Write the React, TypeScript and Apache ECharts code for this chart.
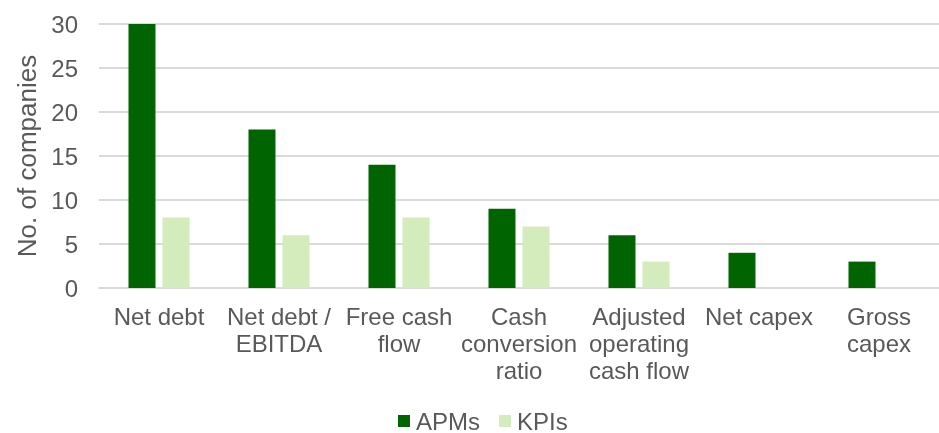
import React, { useEffect, useRef } from "react";
import * as echarts from "echarts";

const categories = [
  "Net debt",
  "Net debt /\nEBITDA",
  "Free cash\nflow",
  "Cash\nconversion\nratio",
  "Adjusted\noperating\ncash flow",
  "Net capex",
  "Gross\ncapex",
];
const apms = [30, 18, 14, 9, 6, 4, 3];
const kpis: (number | null)[] = [8, 6, 8, 7, 3, null, null];
const yTicks = { min: 0, max: 30, interval: 5 };

const TEXT = "#595959";
const FONT = "Liberation Sans, Arial, sans-serif";

export default function App() {
  const ref = useRef<HTMLDivElement>(null);
  useEffect(() => {
    if (!ref.current) return;
    const chart = echarts.init(ref.current, null, { renderer: "svg" });
    chart.setOption({
      animation: false,
      textStyle: { fontFamily: FONT, color: TEXT },
      grid: { left: 99, top: 24, width: 847, height: 264, containLabel: false },
      legend: {
        left: 398,
        top: 409,
        padding: 0,
        itemWidth: 12,
        itemHeight: 12,
        itemGap: 19,
        icon: "rect",
        textStyle: {
          fontFamily: FONT,
          color: TEXT,
          fontSize: 24,
          lineHeight: 24,
          padding: [0, 0, 0, 1],
        },
        data: ["APMs", "KPIs"],
      },
      xAxis: {
        type: "category",
        data: categories,
        axisLine: { show: true, lineStyle: { color: "#d9d9d9", width: 2 } },
        axisTick: { show: false },
        axisLabel: {
          interval: 0,
          color: TEXT,
          fontFamily: FONT,
          fontSize: 24,
          lineHeight: 27,
          margin: 15,
          align: "center",
        },
      },
      yAxis: {
        type: "value",
        min: yTicks.min,
        max: yTicks.max,
        interval: yTicks.interval,
        name: "No. of companies",
        nameLocation: "middle",
        nameGap: 56,
        nameRotate: 90,
        nameTextStyle: { color: TEXT, fontFamily: FONT, fontSize: 26 },
        axisLine: { show: false },
        axisTick: { show: false },
        splitLine: { lineStyle: { color: "#d9d9d9", width: 2 } },
        axisLabel: { color: TEXT, fontFamily: FONT, fontSize: 24, margin: 21 },
      },
      series: [
        {
          name: "APMs",
          type: "bar",
          data: apms,
          barWidth: 27,
          barGap: "26%",
          itemStyle: { color: "#006400" },
        },
        {
          name: "KPIs",
          type: "bar",
          data: kpis,
          barWidth: 27,
          itemStyle: { color: "#d4ebbb" },
        },
      ],
    });
    return () => chart.dispose();
  }, []);
  return (
    <div
      ref={ref}
      style={{ position: "fixed", left: 0, top: 0, width: 939, height: 433 }}
    />
  );
}
